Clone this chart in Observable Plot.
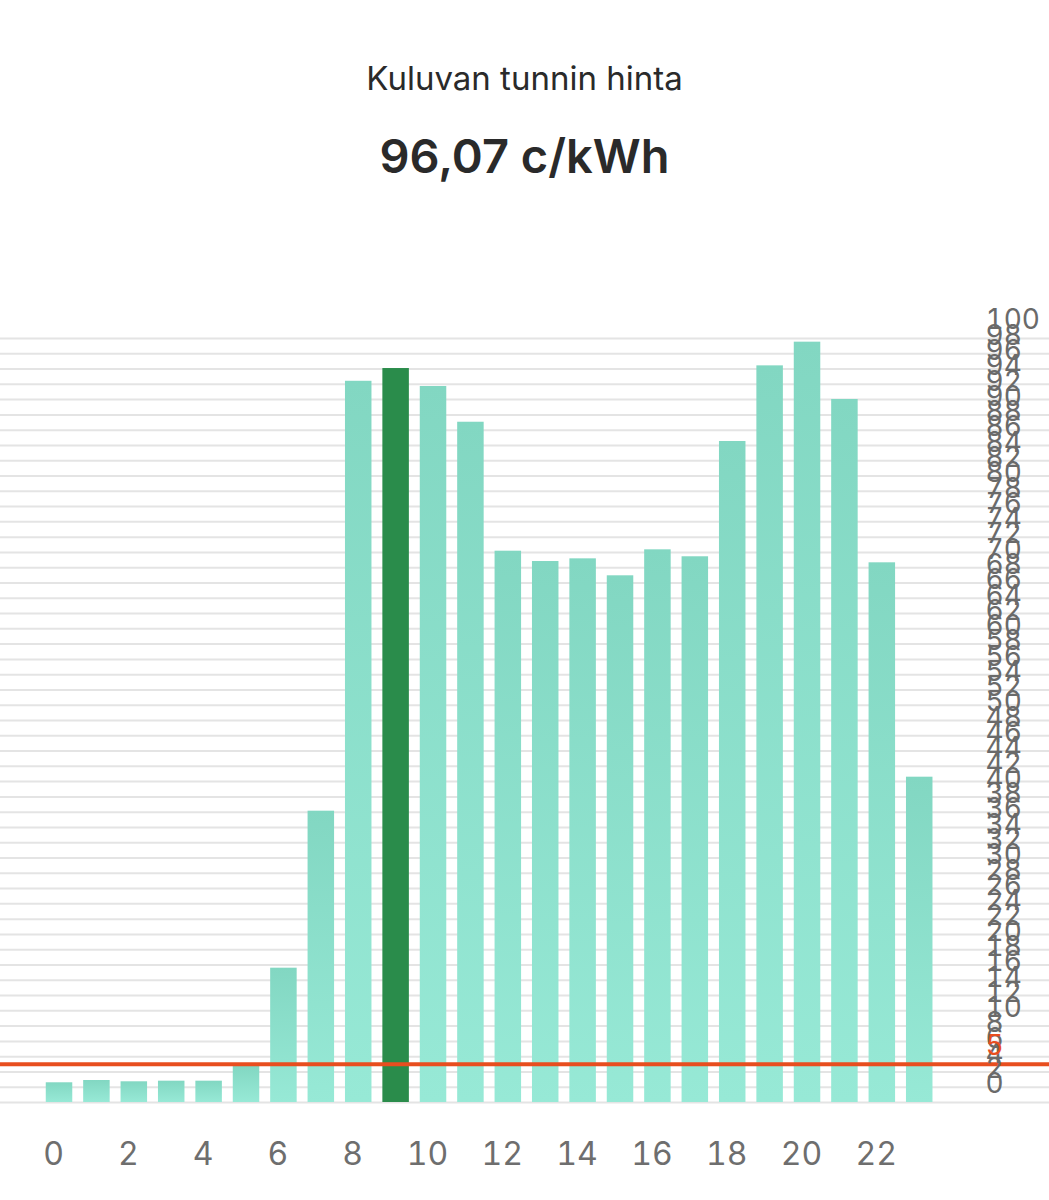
<!DOCTYPE html>
<html>
<head>
<meta charset="utf-8">
<script src="https://cdn.jsdelivr.net/npm/d3@7"></script>
<script src="https://cdn.jsdelivr.net/npm/@observablehq/plot@0.6"></script>
<style>
  html, body { margin: 0; padding: 0; background: #fff; }
  body { width: 1049px; height: 1200px; position: relative; overflow: hidden; font-family: Inter, "Noto Sans", sans-serif; }
  #title { position: absolute; top: 58px; left: 0; width: 1049px; text-align: center; font-size: 33px; color: #2a2a2a; }
  #value { position: absolute; top: 127px; left: 0; width: 1049px; text-align: center; font-size: 47px; font-weight: 600; color: #2a2a2a; }
  #chart { position: absolute; top: 230px; left: 0; }
</style>
</head>
<body>
<div id="title">Kuluvan tunnin hinta</div>
<div id="value">96,07 c/kWh</div>
<div id="chart"></div>
<script>
const hours = [0,1,2,3,4,5,6,7,8,9,10,11,12,13,14,15,16,17,18,19,20,21,22,23];
const prices = [2.58,2.88,2.71,2.79,2.79,4.71,17.58,38.13,94.4,96.07,93.72,89.04,72.16,70.81,71.16,68.94,72.34,71.43,86.52,96.42,99.52,92.02,70.64,42.58];
const currentHour = 9;
const thresholdPrice = 5;
const xTicks = [0,2,4,6,8,10,12,14,16,18,20,22];
const yTicks = d3.range(0, 101, 2);

const data = hours.map((h, i) => ({hour: h, x1: h - 0.5, x2: h + 0.5, price: prices[i], current: h === currentHour}));

const chart = Plot.plot({
  width: 1049,
  height: 970,
  marginTop: 108,
  marginBottom: 98,
  marginLeft: 0,
  marginRight: 0,
  style: {fontFamily: "Inter, 'Noto Sans', sans-serif", background: "transparent"},
  x: {domain: [-1.578, 26.47], axis: null, label: null},
  y: {domain: [0, 100], axis: null, label: null},
  marks: [
    Plot.ruleY(yTicks, {stroke: "#e4e4e4", strokeWidth: 2}),
    Plot.rectY(data, {x1: "x1", x2: "x2", y: "price", insetLeft: 5.45, insetRight: 5.45,
      fill: d => d.current ? "#2a8c4b" : "url(#barGrad)"}),
    Plot.ruleY([thresholdPrice], {stroke: "#e84e1f", strokeWidth: 4}),
    Plot.axisX(xTicks, {anchor: "bottom", label: null, tickSize: 0, tickPadding: 40, dx: -6, fontSize: 32, fill: "#6e6e6e"}),
    Plot.axisY(yTicks, {anchor: "left", label: null, tickSize: 0, tickPadding: 0, textAnchor: "start", dx: 985, dy: -18, fontSize: 28, fill: "#6a6a6a"}),
    Plot.axisY([thresholdPrice], {anchor: "left", label: null, tickSize: 0, tickPadding: 0, textAnchor: "start", dx: 985, dy: -18, fontSize: 28, fill: "#e84e1f"})
  ]
});

const svg = d3.select(chart);
const defs = svg.insert("defs", ":first-child");
const grad = defs.append("linearGradient").attr("id", "barGrad").attr("x1", 0).attr("y1", 0).attr("x2", 0).attr("y2", 1);
grad.append("stop").attr("offset", "0%").attr("stop-color", "#82d7c2");
grad.append("stop").attr("offset", "100%").attr("stop-color", "#97e9d6");

document.getElementById("chart").appendChild(chart);
</script>
</body>
</html>
